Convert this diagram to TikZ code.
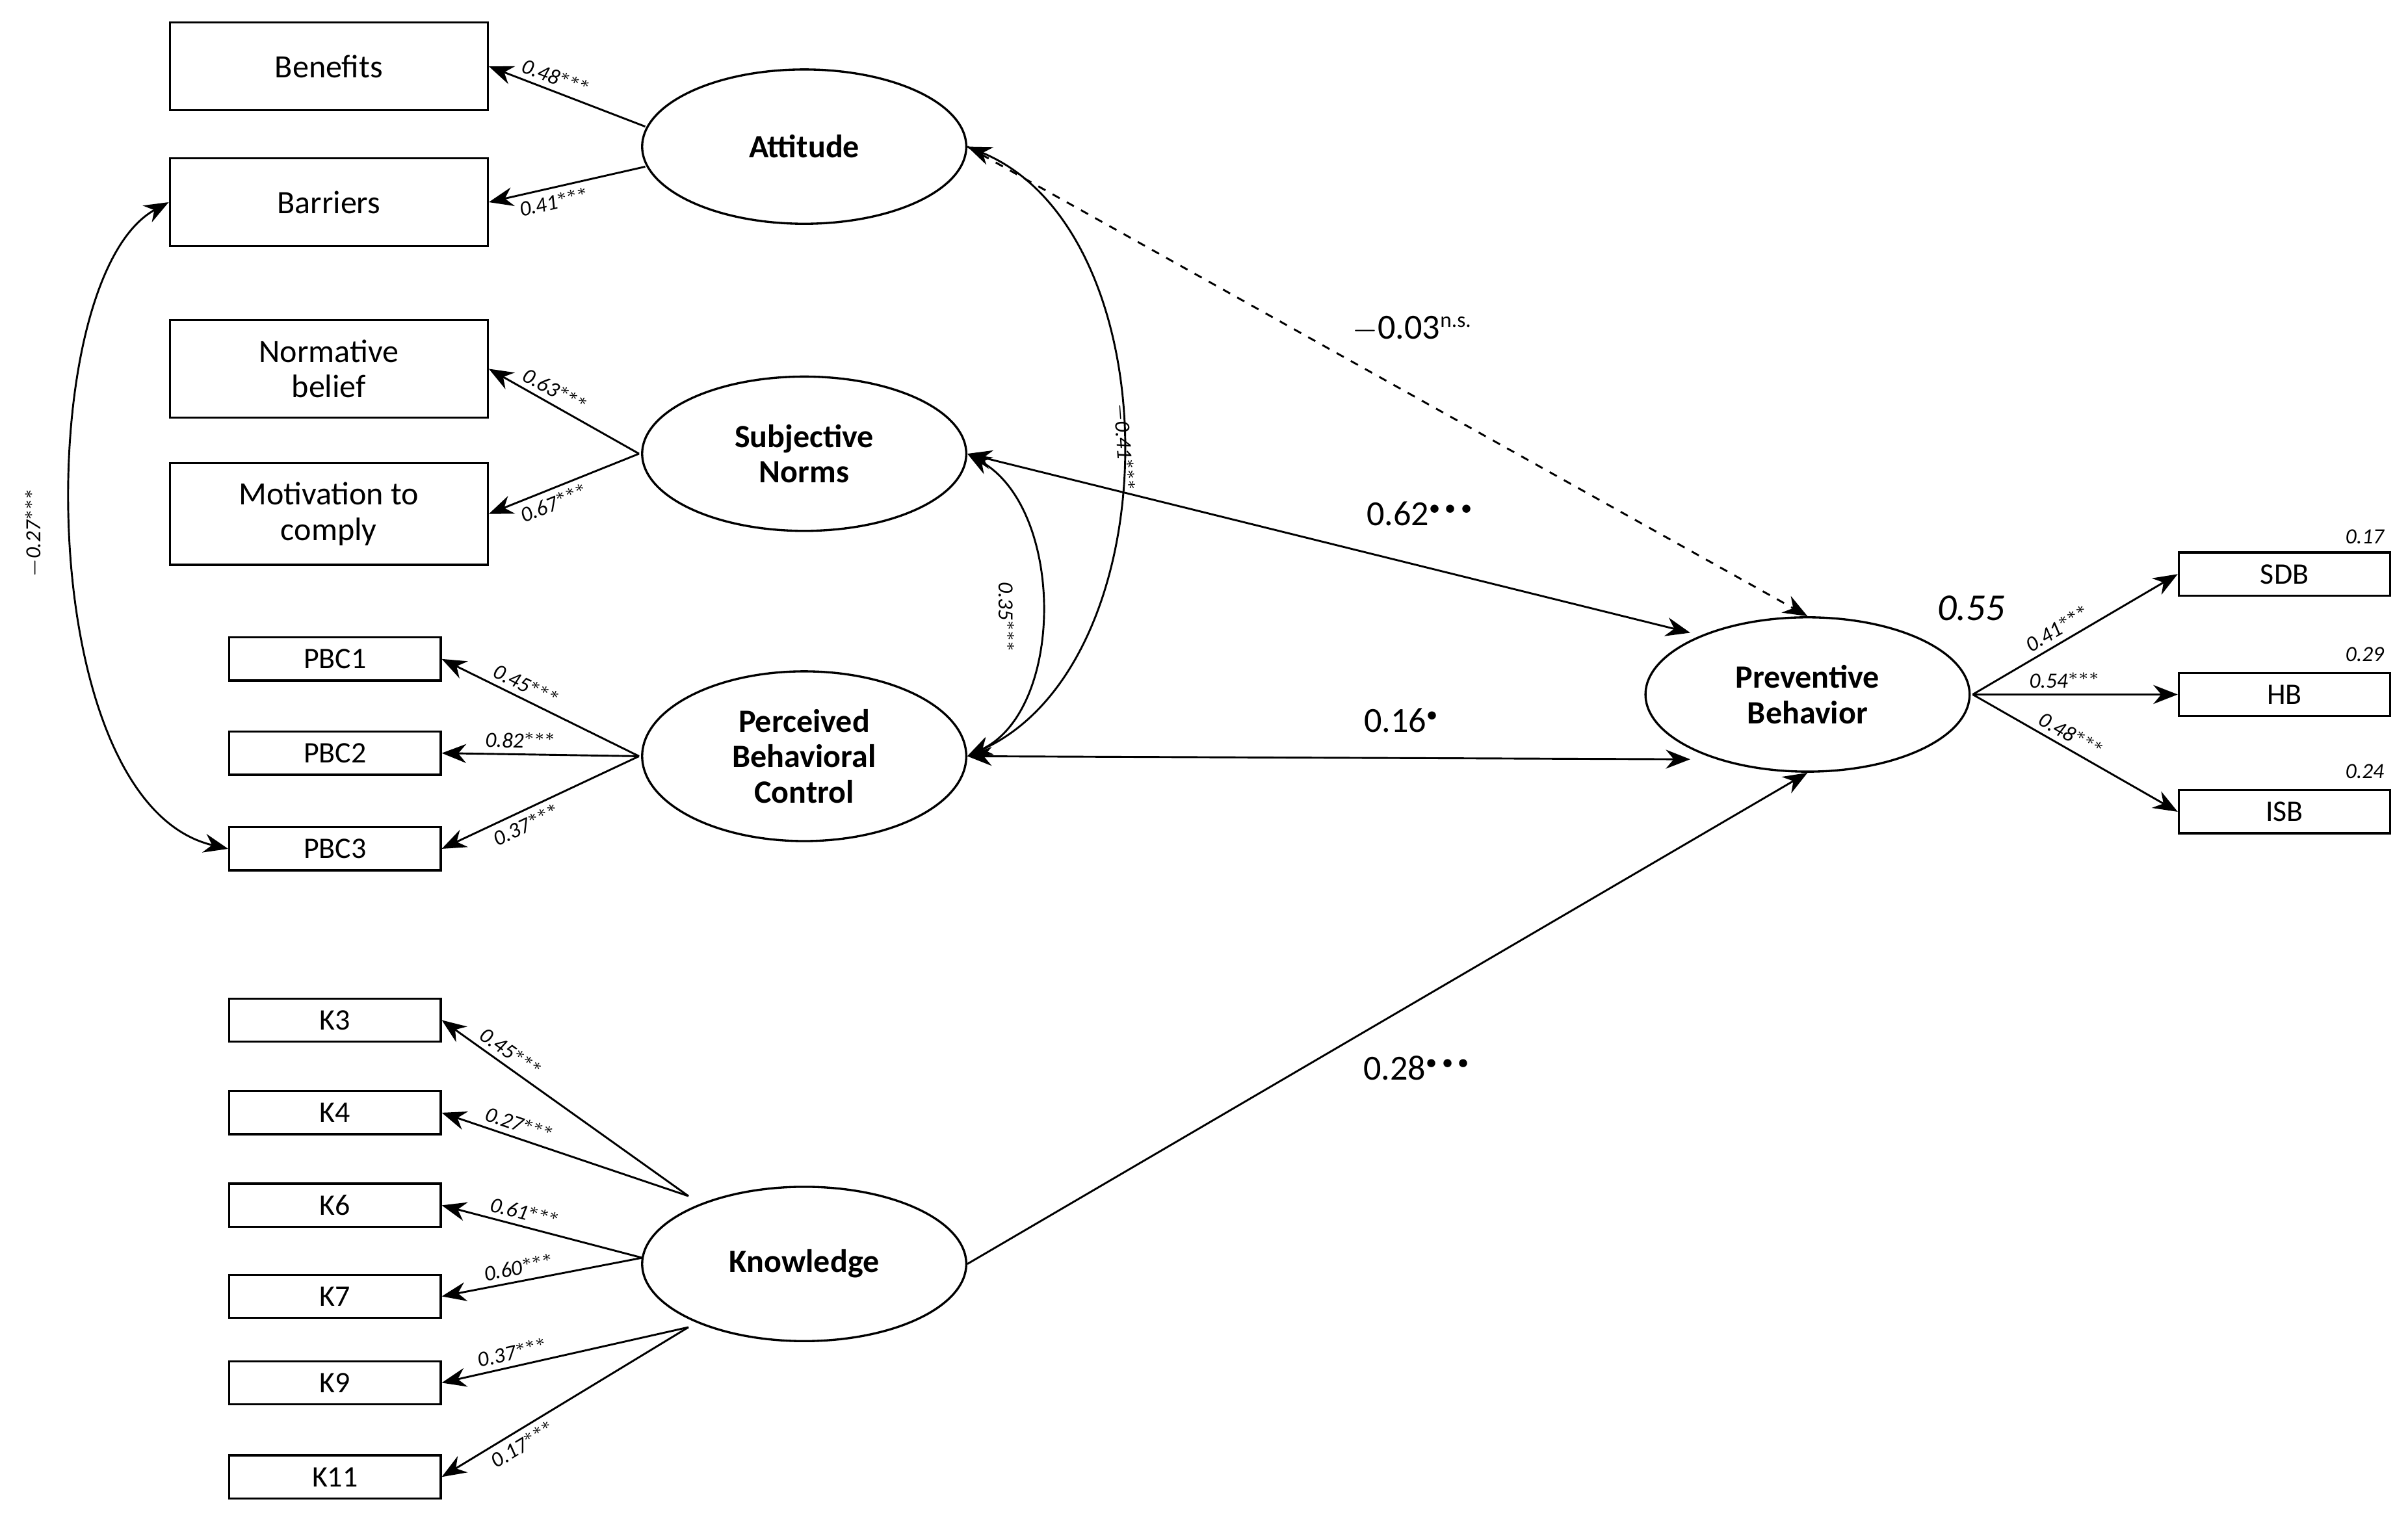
\documentclass[tikz,border=0pt]{standalone}
\usepackage{fontspec}
\setmainfont{Carlito}
\usetikzlibrary{arrows.meta,shapes.geometric}
\begin{document}
\begin{tikzpicture}[x=0.02cm,y=-0.02cm,
  box/.style={draw,line width=0.8pt,minimum width=4.12cm,minimum height=1.14cm,font=\fontsize{12}{13}\selectfont,align=center,inner sep=1pt},
  sbox/.style={draw,line width=0.8pt,minimum width=2.74cm,minimum height=0.56cm,font=\fontsize{11}{12}\selectfont,inner sep=1pt},
  lat/.style={draw,ellipse,line width=0.8pt,minimum width=4.2cm,minimum height=2cm,font=\bfseries\fontsize{12}{13}\selectfont,align=center,inner sep=0pt},
  arr/.style={line width=0.7pt,-{Stealth[length=9pt,width=7pt]}},
  darr/.style={line width=0.7pt,{Stealth[length=9pt,width=7pt]}-{Stealth[length=9pt,width=7pt]}},
  ld/.style={font=\itshape\fontsize{8}{9}\selectfont,sloped,above,inner sep=2pt},
  cl/.style={font=\itshape\fontsize{8}{9}\selectfont,inner sep=1pt},
  st/.style={font=\fontsize{13}{14}\selectfont}]
\useasboundingbox (0,0) rectangle (1560,984);
\node[box] (ben) at (213,43) {Benefits};
\node[box] (bar) at (213,131) {Barriers};
\node[box,minimum height=1.26cm] (nb) at (213,239) {Normative\\belief};
\node[box,minimum height=1.32cm] (mc) at (213,333) {Motivation to\\comply};
\node[sbox] (p1) at (217,427) {PBC1};
\node[sbox] (p2) at (217,488) {PBC2};
\node[sbox] (p3) at (217,550) {PBC3};
\node[sbox] (k3) at (217,661) {K3};
\node[sbox] (k4) at (217,721) {K4};
\node[sbox] (k6) at (217,781) {K6};
\node[sbox] (k7) at (217,840) {K7};
\node[sbox] (k9) at (217,896) {K9};
\node[sbox] (k11) at (217,957) {K11};
\node[lat] (att) at (521,95) {Attitude};
\node[lat] (sn) at (521,294) {Subjective\\Norms};
\node[lat,minimum height=2.2cm] (pbc) at (521,490) {Perceived\\Behavioral\\Control};
\node[lat] (kn) at (521,819) {Knowledge};
\node[lat] (pb) at (1171,450) {Preventive\\Behavior};
\node[sbox] (sdb) at (1480,372) {SDB};
\node[sbox] (hb) at (1480,450) {HB};
\node[sbox] (isb) at (1480,526) {ISB};
\node[font=\itshape\fontsize{8}{9}\selectfont] at (1532,348) {0.17};
\node[font=\itshape\fontsize{8}{9}\selectfont] at (1532,424) {0.29};
\node[font=\itshape\fontsize{8}{9}\selectfont] at (1532,500) {0.24};
\node[font=\itshape\fontsize{14}{15}\selectfont] at (1277,394) {0.55};
\coordinate (a1) at (418,82); \coordinate (a2) at (418,108);
\draw[arr] (a1) -- (ben.east) node[ld,pos=0.6] {0.48$^{***}$};
\draw[arr] (a2) -- (bar.east) node[ld,pos=0.6,below] {0.41$^{***}$};
\coordinate (s1) at (414,294);
\draw[arr] (s1) -- (nb.east) node[ld,pos=0.6] {0.63$^{***}$};
\draw[arr] (s1) -- (mc.east) node[ld,pos=0.6,below] {0.67$^{***}$};
\coordinate (q1) at (414,490);
\draw[arr] (q1) -- (p1.east) node[ld,pos=0.6] {0.45$^{***}$};
\draw[arr] (q1) -- (p2.east) node[ld,pos=0.6] {0.82$^{***}$};
\draw[arr] (q1) -- (p3.east) node[ld,pos=0.6,below] {0.37$^{***}$};
\coordinate (c1) at (446,775); \coordinate (c2) at (416,815); \coordinate (c3) at (446,860);
\draw[arr] (c1) -- (k3.east) node[ld,pos=0.75] {0.45$^{***}$};
\draw[arr] (c1) -- (k4.east) node[ld,pos=0.7] {0.27$^{***}$};
\draw[arr] (c2) -- (k6.east) node[ld,pos=0.6] {0.61$^{***}$};
\draw[arr] (c2) -- (k7.east) node[ld,pos=0.6] {0.60$^{***}$};
\draw[arr] (c3) -- (k9.east) node[ld,pos=0.7] {0.37$^{***}$};
\draw[arr] (c3) -- (k11.east) node[ld,pos=0.7,below] {0.17$^{***}$};
\coordinate (r0) at (1278,450);
\draw[arr] (r0) -- (sdb.west) node[ld,pos=0.45] {0.41$^{***}$};
\draw[arr] (r0) -- (hb.west) node[ld,pos=0.45] {0.54$^{***}$};
\draw[arr] (r0) -- (isb.west) node[ld,pos=0.45] {0.48$^{***}$};
% covariances
\draw[darr] (att.east) .. controls (760,150) and (760,430) .. (pbc.east);
\node[cl,rotate=-86] at (728,290) {$-$0.41$^{***}$};
\draw[darr] (sn.east) .. controls (690,330) and (690,460) .. (pbc.east);
\node[cl,rotate=-90] at (652,400) {0.35$^{***}$};
\draw[darr] (bar.west) .. controls (20,180) and (20,520) .. (p3.west);
\node[cl,rotate=90] at (22,345) {$-$0.27$^{***}$};
% structural
\draw[arr,dashed] (att.east) -- (pb.north);
\draw[darr] (sn.east) -- (1095,410);
\draw[darr] (pbc.east) -- (1095,492);
\draw[arr] (kn.east) -- (pb.south);
\node[st] at (915,213) {$-$0.03\textsuperscript{\fontsize{8}{9}\selectfont n.s.}};
\node[st] at (920,333) {0.62\textsuperscript{\fontsize{7}{8}\selectfont$\bullet\bullet\bullet$}};
\node[st] at (908,467) {0.16\textsuperscript{\fontsize{7}{8}\selectfont$\bullet$}};
\node[st] at (918,692) {0.28\textsuperscript{\fontsize{7}{8}\selectfont$\bullet\bullet\bullet$}};
\end{tikzpicture}
\end{document}
